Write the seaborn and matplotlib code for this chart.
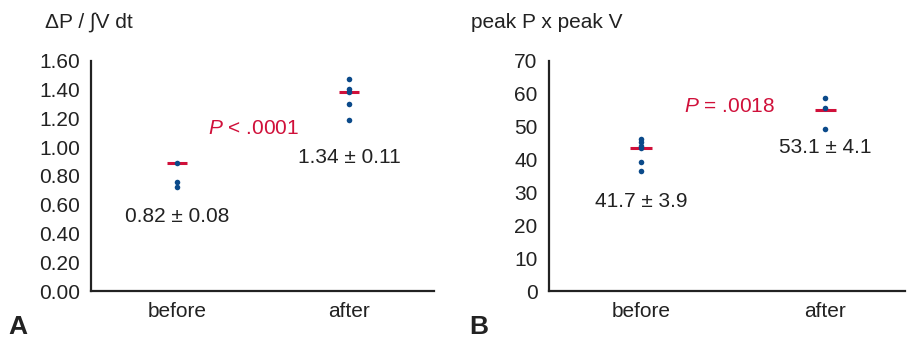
import pandas as pd
import matplotlib
matplotlib.use("Agg")
import matplotlib.pyplot as plt
import seaborn as sns

# values
groups = ["before", "after"]

dpdt_before = [0.892, 0.760, 0.726]
dpdt_after = [1.473, 1.403, 1.383, 1.300, 1.190]
dpdt_lines = [0.892, 1.384]
dpdt_labels = ["0.82 ± 0.08", "1.34 ± 0.11"]
dpdt_label_y = [0.52, 0.93]
dpdt_p = r"$P$ < .0001"

pv_before = [46.2, 45.3, 44.2, 43.4, 39.3, 36.6]
pv_after = [58.6, 55.6, 49.3]
pv_lines = [43.6, 55.1]
pv_labels = ["41.7 ± 3.9", "53.1 ± 4.1"]
pv_label_y = [27.1, 43.8]
pv_p = r"$P$ = .0018"

sns.set_style("white")
plt.rcParams["font.family"] = ["Liberation Sans", "DejaVu Sans"]
plt.rcParams["mathtext.fontset"] = "custom"
plt.rcParams["mathtext.it"] = "Liberation Sans:italic"
plt.rcParams["mathtext.rm"] = "Liberation Sans"

DOT = "#0b4a8a"
RED = "#d0103a"
TXT = "#222222"
FS = 15


def make_df(before, after):
    return pd.DataFrame({
        "group": ["before"] * len(before) + ["after"] * len(after),
        "value": before + after,
    })


def draw_panel(ax, df, lines, labels, label_y, ptext, p_x, p_y, xmax, ymax, yticks, fmt):
    sns.stripplot(data=df, x="group", y="value", order=groups, jitter=False,
                  color=DOT, size=4.0, linewidth=0, ax=ax, zorder=3)
    ax.hlines(lines, [i - 0.058 for i in range(2)], [i + 0.058 for i in range(2)],
              color=RED, lw=2.2, zorder=2)
    for i, (lab, y) in enumerate(zip(labels, label_y)):
        ax.text(i, y, lab, ha="center", va="center", fontsize=FS, color=TXT)
    ax.text(p_x, p_y, ptext, ha="center", va="center", fontsize=FS, color=RED)
    ax.set_xlim(-0.5, xmax)
    ax.set_ylim(0, ymax)
    ax.set_yticks(yticks)
    ax.set_yticklabels([fmt.format(t) for t in yticks])
    ax.set_xlabel("")
    ax.set_ylabel("")
    ax.tick_params(axis="both", length=0, labelsize=FS, labelcolor=TXT, pad=8)
    for s in ["top", "right"]:
        ax.spines[s].set_visible(False)
    for s in ["left", "bottom"]:
        ax.spines[s].set_color(TXT)
        ax.spines[s].set_linewidth(1.6)


fig = plt.figure(figsize=(9.1, 3.44), dpi=100)
ax1 = fig.add_axes([0.100, 0.154, 0.377, 0.669])
ax2 = fig.add_axes([0.603, 0.154, 0.392, 0.669])

draw_panel(ax1, make_df(dpdt_before, dpdt_after), dpdt_lines, dpdt_labels,
           dpdt_label_y, dpdt_p, 0.442, 1.127, 1.494, 1.6,
           [0.0, 0.2, 0.4, 0.6, 0.8, 1.0, 1.2, 1.4, 1.6], "{:.2f}")
draw_panel(ax2, make_df(pv_before, pv_after), pv_lines, pv_labels,
           pv_label_y, pv_p, 0.478, 56.0, 1.435, 70,
           list(range(0, 71, 10)), "{:d}")

fig.text(0.049, 0.935, "ΔP / ∫V dt", fontsize=FS, color=TXT, va="center")
fig.text(0.518, 0.935, "peak P x peak V", fontsize=FS, color=TXT, va="center")
fig.text(0.009, 0.05, "A", fontsize=19, fontweight="bold", color=TXT, va="center")
fig.text(0.516, 0.05, "B", fontsize=19, fontweight="bold", color=TXT, va="center")

fig.savefig("out.png", dpi=100)
